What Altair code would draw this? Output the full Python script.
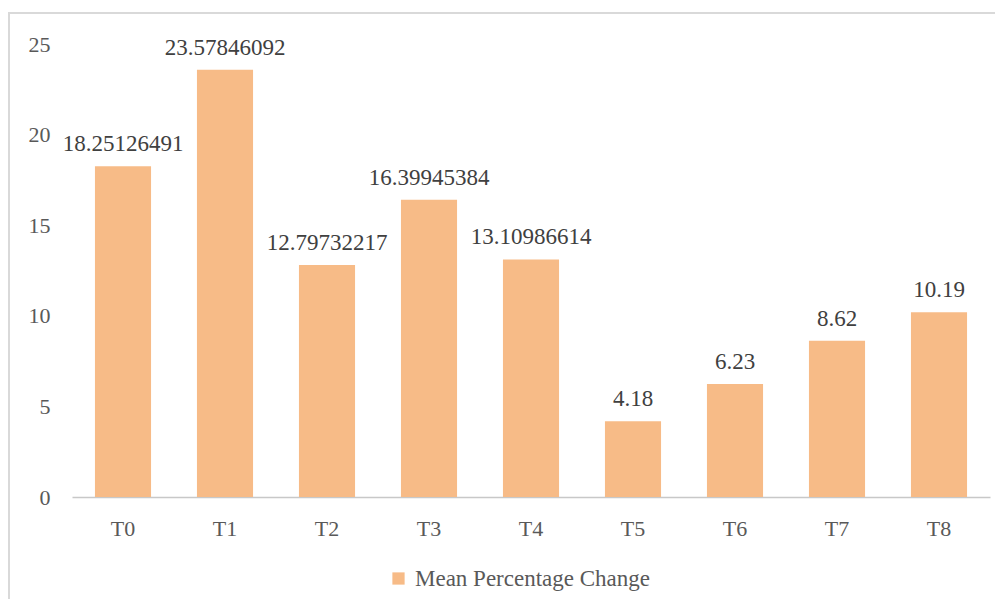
import altair as alt
import pandas as pd

categories = ["T0", "T1", "T2", "T3", "T4", "T5", "T6", "T7", "T8"]
values = [18.25126491, 23.57846092, 12.79732217, 16.39945384, 13.10986614, 4.18, 6.23, 8.62, 10.19]
labels = ["18.25126491", "23.57846092", "12.79732217", "16.39945384", "13.10986614", "4.18", "6.23", "8.62", "10.19"]
series = "Mean Percentage Change"

df = pd.DataFrame({"cat": categories, "val": values, "lab": labels, "series": [series] * len(categories)})

FONT = "Liberation Serif"
BAR = "#F7BB87"

x = alt.X("cat:N", sort=categories, title=None,
          scale=alt.Scale(paddingInner=0.45, paddingOuter=0.225),
          axis=alt.Axis(labelAngle=0, ticks=False, labelFont=FONT, labelFontSize=22,
                        labelColor="#595959", labelPadding=21, domainColor="#c8c8c8",
                        domainWidth=1.5))
y = alt.Y("val:Q", title=None, scale=alt.Scale(domain=[0, 25], nice=False),
          axis=alt.Axis(values=[0, 5, 10, 15, 20, 25], grid=False, domain=False, ticks=False,
                        labelFont=FONT, labelFontSize=22, labelColor="#595959", labelPadding=22))

bars = alt.Chart(df).mark_bar(color=BAR).encode(
    x=x, y=y,
    color=alt.Color("series:N", scale=alt.Scale(domain=[series], range=[BAR]),
                    legend=alt.Legend(title=None, orient="none", legendX=315, legendY=523,
                                      symbolType="square", symbolSize=150, symbolStrokeWidth=0,
                                      labelFont=FONT, labelFontSize=23, labelColor="#595959",
                                      labelOffset=5, labelLimit=0)))

text = alt.Chart(df).mark_text(font=FONT, fontSize=23, color="#404040", baseline="alphabetic", dy=-15).encode(
    x=alt.X("cat:N", sort=categories), y="val:Q", text="lab:N")

border = alt.Chart(pd.DataFrame({"a": [0]})).mark_rect(
    fill=None, stroke="#d9d9d9", strokeWidth=2, clip=False).encode(
    x=alt.value(-63), x2=alt.value(932), y=alt.value(-31), y2=alt.value(620))

chart = alt.layer(border, bars, text).properties(
    width=918, height=453,
    padding={"left": 64, "top": 36, "right": 5, "bottom": 102},
    autosize=alt.AutoSizeParams(type="none"),
).configure(background="white").configure_view(strokeWidth=0, stroke="transparent")

chart.save("out.html", embed_options={"renderer": "svg", "actions": False})
